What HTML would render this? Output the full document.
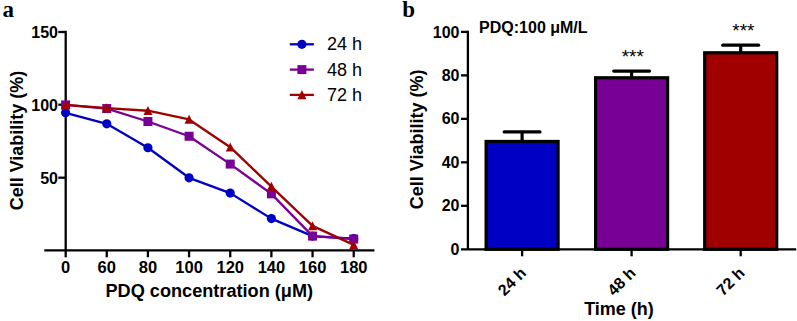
<!DOCTYPE html><html><head><meta charset="utf-8"><style>html,body{margin:0;padding:0;background:#fff;width:797px;height:321px;overflow:hidden}svg{display:block}text{font-family:"Liberation Sans",sans-serif}</style></head><body>
<svg width="797" height="321" viewBox="0 0 797 321">
<text x="2.5" y="16.5" style="font-family:'Liberation Serif',serif;font-weight:bold;font-size:23px">a</text>
<text x="402.3" y="16.6" style="font-family:'Liberation Serif',serif;font-weight:bold;font-size:23px">b</text>
<g stroke="#000" stroke-width="2.3" fill="none">
<line x1="65.7" y1="30.85" x2="65.7" y2="257.3"/>
<line x1="44.3" y1="250.3" x2="374.4" y2="250.3"/>
<line x1="58.3" y1="32.0" x2="65.7" y2="32.0"/>
<line x1="58.3" y1="104.7" x2="65.7" y2="104.7"/>
<line x1="58.3" y1="177.7" x2="65.7" y2="177.7"/>
<line x1="106.76" y1="250.3" x2="106.76" y2="257.3"/>
<line x1="147.92" y1="250.3" x2="147.92" y2="257.3"/>
<line x1="189.08" y1="250.3" x2="189.08" y2="257.3"/>
<line x1="230.24" y1="250.3" x2="230.24" y2="257.3"/>
<line x1="271.40" y1="250.3" x2="271.40" y2="257.3"/>
<line x1="312.56" y1="250.3" x2="312.56" y2="257.3"/>
<line x1="353.72" y1="250.3" x2="353.72" y2="257.3"/>
</g>
<g style="font-weight:bold;font-size:16px" text-anchor="end">
<text x="58" y="37.80">150</text>
<text x="58" y="110.70">100</text>
<text x="58" y="183.60">50</text>
</g>
<g style="font-weight:bold;font-size:16.5px" text-anchor="middle">
<text x="65.60" y="273">0</text>
<text x="106.76" y="273">60</text>
<text x="147.92" y="273">80</text>
<text x="189.08" y="273">100</text>
<text x="230.24" y="273">120</text>
<text x="271.40" y="273">140</text>
<text x="312.56" y="273">160</text>
<text x="353.72" y="273">180</text>
</g>
<text x="209.3" y="297.4" text-anchor="middle" style="font-weight:bold;font-size:18.15px">PDQ concentration (μM)</text>
<text transform="translate(22.7,140.5) rotate(-90)" text-anchor="middle" style="font-weight:bold;font-size:18px">Cell Viability (%)</text>
<polyline points="65.60,112.77 106.76,123.85 147.92,147.77 189.08,177.80 230.24,193.11 271.40,218.62 312.56,236.12 353.72,238.60" fill="none" stroke="#0000c4" stroke-width="2.3" stroke-linejoin="round"/>
<circle cx="65.60" cy="112.77" r="4.6" fill="#0000c4"/>
<circle cx="106.76" cy="123.85" r="4.6" fill="#0000c4"/>
<circle cx="147.92" cy="147.77" r="4.6" fill="#0000c4"/>
<circle cx="189.08" cy="177.80" r="4.6" fill="#0000c4"/>
<circle cx="230.24" cy="193.11" r="4.6" fill="#0000c4"/>
<circle cx="271.40" cy="218.62" r="4.6" fill="#0000c4"/>
<circle cx="312.56" cy="236.12" r="4.6" fill="#0000c4"/>
<circle cx="353.72" cy="238.60" r="4.6" fill="#0000c4"/>
<polyline points="65.60,104.90 106.76,108.54 147.92,121.52 189.08,136.25 230.24,164.09 271.40,193.84 312.56,236.12 353.72,239.04" fill="none" stroke="#790096" stroke-width="2.3" stroke-linejoin="round"/>
<rect x="61.10" y="100.40" width="9" height="9" fill="#790096"/>
<rect x="102.26" y="104.04" width="9" height="9" fill="#790096"/>
<rect x="143.42" y="117.02" width="9" height="9" fill="#790096"/>
<rect x="184.58" y="131.75" width="9" height="9" fill="#790096"/>
<rect x="225.74" y="159.59" width="9" height="9" fill="#790096"/>
<rect x="266.90" y="189.34" width="9" height="9" fill="#790096"/>
<rect x="308.06" y="231.62" width="9" height="9" fill="#790096"/>
<rect x="349.22" y="234.54" width="9" height="9" fill="#790096"/>
<polyline points="65.60,104.90 106.76,108.11 147.92,110.73 189.08,119.48 230.24,147.18 271.40,186.55 312.56,225.91 353.72,244.87" fill="none" stroke="#a00000" stroke-width="2.3" stroke-linejoin="round"/>
<polygon points="65.60,100.12 70.10,109.18 61.10,109.18" fill="#a00000"/>
<polygon points="106.76,103.33 111.26,112.38 102.26,112.38" fill="#a00000"/>
<polygon points="147.92,105.96 152.42,115.01 143.42,115.01" fill="#a00000"/>
<polygon points="189.08,114.70 193.58,123.75 184.58,123.75" fill="#a00000"/>
<polygon points="230.24,142.41 234.74,151.46 225.74,151.46" fill="#a00000"/>
<polygon points="271.40,181.77 275.90,190.82 266.90,190.82" fill="#a00000"/>
<polygon points="312.56,221.14 317.06,230.19 308.06,230.19" fill="#a00000"/>
<polygon points="353.72,240.09 358.22,249.14 349.22,249.14" fill="#a00000"/>
<line x1="289.8" y1="44.3" x2="313.9" y2="44.3" stroke="#0000c4" stroke-width="2.3"/>
<circle cx="301.9" cy="44.3" r="4.6" fill="#0000c4"/>
<text x="327" y="50.4" style="font-size:18px">24 h</text>
<line x1="289.8" y1="69.6" x2="313.9" y2="69.6" stroke="#790096" stroke-width="2.3"/>
<rect x="297.4" y="65.1" width="9" height="9" fill="#790096"/>
<text x="327" y="75.7" style="font-size:18px">48 h</text>
<line x1="289.8" y1="94.9" x2="313.9" y2="94.9" stroke="#a00000" stroke-width="2.3"/>
<polygon points="301.90,90.12 306.40,99.18 297.40,99.18" fill="#a00000"/>
<text x="327" y="101.0" style="font-size:18px">72 h</text>
<g stroke="#000" stroke-width="2.3" fill="none">
<line x1="467.9" y1="30.75" x2="467.9" y2="249.3"/>
<line x1="461" y1="249.3" x2="796.2" y2="249.3"/>
<line x1="461" y1="31.90" x2="467.9" y2="31.90"/>
<line x1="461" y1="75.38" x2="467.9" y2="75.38"/>
<line x1="461" y1="118.86" x2="467.9" y2="118.86"/>
<line x1="461" y1="162.34" x2="467.9" y2="162.34"/>
<line x1="461" y1="205.82" x2="467.9" y2="205.82"/>
</g>
<g style="font-weight:bold;font-size:16px" text-anchor="end">
<text x="459.5" y="37.50">100</text>
<text x="459.5" y="80.98">80</text>
<text x="459.5" y="124.46">60</text>
<text x="459.5" y="167.94">40</text>
<text x="459.5" y="211.42">20</text>
<text x="459.5" y="254.90">0</text>
</g>
<text x="479.1" y="33.1" style="font-weight:bold;font-size:16px">PDQ:100 μM/L</text>
<text transform="translate(422.5,139.3) rotate(-90)" text-anchor="middle" style="font-weight:bold;font-size:18px">Cell Viability (%)</text>
<text x="619" y="315.1" text-anchor="middle" style="font-weight:bold;font-size:18px">Time (h)</text>
<line x1="522.1" y1="131.90" x2="522.1" y2="141.47" stroke="#000" stroke-width="3.2"/>
<line x1="504.20" y1="131.90" x2="540.00" y2="131.90" stroke="#000" stroke-width="3.2" stroke-linecap="round"/>
<rect x="486.1" y="141.47" width="72" height="107.83" fill="#0000c4" stroke="#000" stroke-width="3.2"/>
<line x1="522.1" y1="249.3" x2="522.1" y2="256.3" stroke="#000" stroke-width="2.3"/>
<text transform="translate(527.1,274) rotate(-45)" text-anchor="end" style="font-weight:bold;font-size:16px">24 h</text>
<line x1="631.6" y1="71.03" x2="631.6" y2="77.77" stroke="#000" stroke-width="3.2"/>
<line x1="613.70" y1="71.03" x2="649.50" y2="71.03" stroke="#000" stroke-width="3.2" stroke-linecap="round"/>
<rect x="595.6" y="77.77" width="72" height="171.53" fill="#790096" stroke="#000" stroke-width="3.2"/>
<line x1="631.6" y1="249.3" x2="631.6" y2="256.3" stroke="#000" stroke-width="2.3"/>
<text transform="translate(636.6,274) rotate(-45)" text-anchor="end" style="font-weight:bold;font-size:16px">48 h</text>
<line x1="740.7" y1="45.16" x2="740.7" y2="52.77" stroke="#000" stroke-width="3.2"/>
<line x1="722.80" y1="45.16" x2="758.60" y2="45.16" stroke="#000" stroke-width="3.2" stroke-linecap="round"/>
<rect x="704.7" y="52.77" width="72" height="196.53" fill="#a00000" stroke="#000" stroke-width="3.2"/>
<line x1="740.7" y1="249.3" x2="740.7" y2="256.3" stroke="#000" stroke-width="2.3"/>
<text transform="translate(745.7,274) rotate(-45)" text-anchor="end" style="font-weight:bold;font-size:16px">72 h</text>
<text x="632.8" y="62.5" text-anchor="middle" style="font-size:19px">***</text>
<text x="743.4" y="36.5" text-anchor="middle" style="font-size:19px">***</text>
</svg></body></html>
